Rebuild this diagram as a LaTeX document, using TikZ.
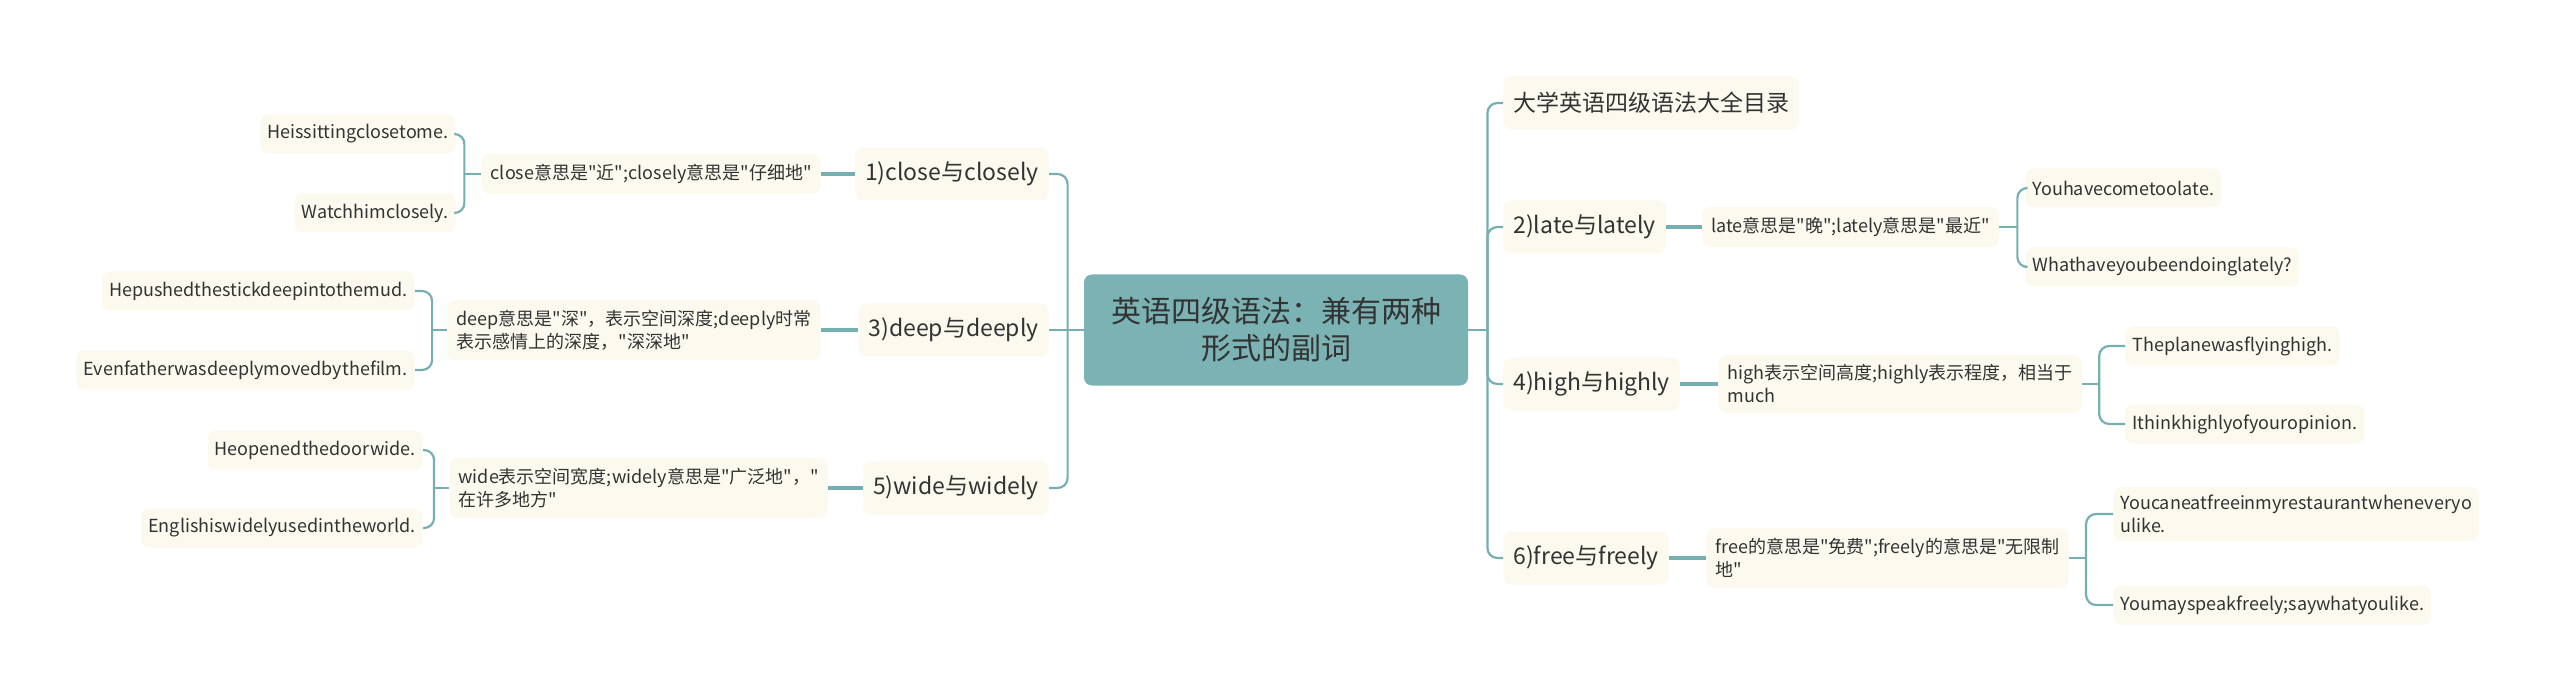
\documentclass[tikz,border=0pt]{standalone}
\usepackage{fontspec}
\newfontfamily\cjk{Noto Sans CJK SC}
\usepackage{tikz}
\usepackage{xcolor}
\definecolor{linec}{HTML}{76AFB1}
\definecolor{boxc}{HTML}{FCF9EF}
\definecolor{rootc}{HTML}{7BB3B5}
\definecolor{txtc}{HTML}{333333}

\begin{document}
\begin{tikzpicture}[x=0.5pt, y=-0.5pt,
  hub/.style={fill=rootc, rounded corners=4pt, minimum width=192pt, minimum height=55.5pt,
    align=center, text=txtc, font=\cjk\fontsize{15}{18.5}\selectfont},
  lv1/.style={fill=boxc, rounded corners=4pt, minimum height=26.5pt, inner xsep=5pt,
    text=txtc, font=\cjk\fontsize{11.5}{14}\selectfont},
  lv2/.style={fill=boxc, rounded corners=4pt, minimum height=20pt, inner xsep=4.5pt, inner ysep=5pt,
    align=left, text=txtc, font=\cjk\fontsize{9}{11.5}\selectfont},
  lv3/.style={fill=boxc, rounded corners=4pt, minimum height=19.5pt, inner xsep=3.5pt, inner ysep=4pt,
    align=left, text=txtc, font=\cjk\fontsize{9}{11.5}\selectfont},
  lnk/.style={draw=linec, line width=1.1pt, rounded corners=5pt},
  lnkb/.style={draw=linec, line width=1.6pt}
]
\useasboundingbox (0,0) rectangle (2560,700);
% centre
\node[hub] (root) at (1276,330) {英语四级语法：兼有两种\\形式的副词};
% left side
\node[lv1, anchor=east] (cl) at (1049,174) {1)close与closely};
\node[lv1, anchor=east] (dp) at (1049,330) {3)deep与deeply};
\node[lv1, anchor=east] (wd) at (1049,488) {5)wide与widely};
\node[lv2, anchor=east] (clx) at (821,174) {close意思是"近";closely意思是"仔细地"};
\node[lv2, anchor=east] (dpx) at (821,330) {deep意思是"深"，表示空间深度;deeply时常\\表示感情上的深度，"深深地"};
\node[lv2, anchor=east] (wdx) at (828,488) {wide表示空间宽度;widely意思是"广泛地"，"\\在许多地方"};
\node[lv3, anchor=east] (cla) at (456,134) {Heissittingclosetome.};
\node[lv3, anchor=east] (clb) at (456,213) {Watchhimclosely.};
\node[lv3, anchor=east] (dpa) at (415,291) {Hepushedthestickdeepintothemud.};
\node[lv3, anchor=east] (dpb) at (415,370) {Evenfatherwasdeeplymovedbythefilm.};
\node[lv3, anchor=east] (wda) at (423,450) {Heopenedthedoorwide.};
\node[lv3, anchor=east] (wdb) at (423,528) {Englishiswidelyusedintheworld.};
% right side
\node[lv1, anchor=west] (top) at (1503,103) {大学英语四级语法大全目录};
\node[lv1, anchor=west] (lt) at (1503,227) {2)late与lately};
\node[lv1, anchor=west] (hg) at (1503,384) {4)high与highly};
\node[lv1, anchor=west] (fr) at (1503,558) {6)free与freely};
\node[lv2, anchor=west] (ltx) at (1702,227) {late意思是"晚";lately意思是"最近"};
\node[lv2, anchor=west] (hgx) at (1718,384) {high表示空间高度;highly表示程度，相当于\\much};
\node[lv2, anchor=west] (frx) at (1706,558) {free的意思是"免费";freely的意思是"无限制\\地"};
\node[lv3, anchor=west] (lta) at (2025,188) {Youhavecometoolate.};
\node[lv3, anchor=west] (ltb) at (2025,267) {Whathaveyoubeendoinglately?};
\node[lv3, anchor=west] (hga) at (2125,346) {Theplanewasflyinghigh.};
\node[lv3, anchor=west] (hgb) at (2125,424) {Ithinkhighlyofyouropinion.};
\node[lv3, anchor=west] (fra) at (2113,514) {Youcaneatfreeinmyrestaurantwheneveryo\\ulike.};
\node[lv3, anchor=west] (frb) at (2113,605) {Youmayspeakfreely;saywhatyoulike.};

% trunks
\coordinate (lj) at ([xshift=-8pt]root.west);
\coordinate (rj) at ([xshift=9.5pt]root.east);
\draw[lnk] (root.west) -- (dp.east);
\draw[lnk] (lj) |- (cl.east);
\draw[lnk] (lj) |- (wd.east);
\draw[lnk] (root.east) -- (rj);
\draw[lnk] (rj) |- (top.west);
\draw[lnk] (rj) |- (lt.west);
\draw[lnk] (rj) |- (hg.west);
\draw[lnk] (rj) |- (fr.west);
% second level
\draw[lnkb] (cl.west) -- (clx.east);
\draw[lnkb] (dp.west) -- (dpx.east);
\draw[lnkb] (wd.west) -- (wdx.east);
\draw[lnkb] (lt.east) -- (ltx.west);
\draw[lnkb] (hg.east) -- (hgx.west);
\draw[lnkb] (fr.east) -- (frx.west);
% brackets
\coordinate (clj) at ([xshift=-8.5pt]clx.west);
\coordinate (dpj) at ([xshift=-7.5pt]dpx.west);
\coordinate (wdj) at ([xshift=-7.5pt]wdx.west);
\coordinate (ltj) at ([xshift=9pt]ltx.east);
\coordinate (hgj) at ([xshift=8.5pt]hgx.east);
\coordinate (frj) at ([xshift=8.5pt]frx.east);
\draw[lnk] (clx.west) -- (clj);
\draw[lnk] (clj) |- (cla.east);
\draw[lnk] (clj) |- (clb.east);
\draw[lnk] (dpx.west) -- (dpj);
\draw[lnk] (dpj) |- (dpa.east);
\draw[lnk] (dpj) |- (dpb.east);
\draw[lnk] (wdx.west) -- (wdj);
\draw[lnk] (wdj) |- (wda.east);
\draw[lnk] (wdj) |- (wdb.east);
\draw[lnk] (ltx.east) -- (ltj);
\draw[lnk] (ltj) |- (lta.west);
\draw[lnk] (ltj) |- (ltb.west);
\draw[lnk] (hgx.east) -- (hgj);
\draw[lnk] (hgj) |- (hga.west);
\draw[lnk] (hgj) |- (hgb.west);
\draw[lnk] (frx.east) -- (frj);
\draw[lnk] (frj) |- (fra.west);
\draw[lnk] (frj) |- (frb.west);
\end{tikzpicture}
\end{document}
